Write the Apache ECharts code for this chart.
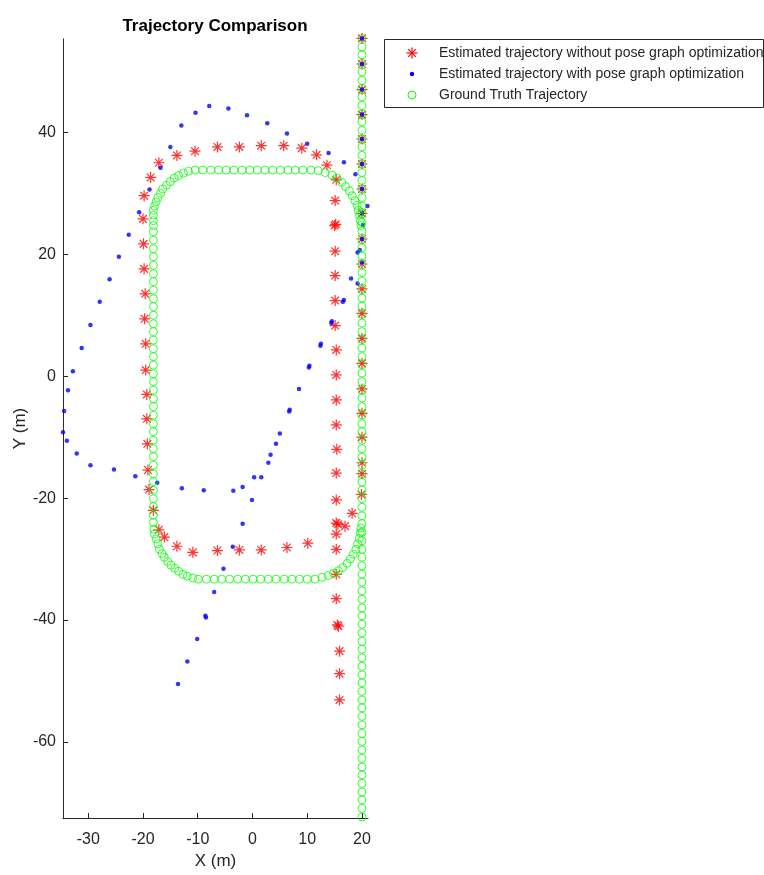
<!DOCTYPE html>
<html>
<head>
<meta charset="utf-8">
<script src="https://cdn.jsdelivr.net/npm/echarts@6/dist/echarts.min.js"></script>
<style>
  html, body { margin: 0; padding: 0; background: #fff; }
  #chart { width: 764px; height: 875px; }
</style>
</head>
<body>
<div id="chart"></div>
<script>
// ---- series names ----
const seriesNames = [
  'Estimated trajectory without pose graph optimization',
  'Estimated trajectory with pose graph optimization',
  'Ground Truth Trajectory'
];

// ---- axis ticks ----
const xTicks = [-30, -20, -10, 0, 10, 20];
const yTicks = [-60, -40, -20, 0, 20, 40];

// ---- estimated trajectory, no pose graph optimization (m) ----
const rawX = [
  20, 20, 20, 20, 20, 20, 20, 20, 20, 20, 20, 20, 20, 20, 20, 20, 20, 20, 20, 19.9, 18.2, 16.9,
  10.1, 6.3, 1.6, -2.4, -6.4, -10.9, -13.8, -16.1, -17.1, -18.1,
  -18.9, -19.1, -19.2, -19.3, -19.3, -19.5, -19.5, -19.7, -19.6, -19.8, -19.9, -20.0, -19.8,
  -18.6, -17.1, -13.8, -10.5, -6.4, -2.4, 1.6, 5.7, 9.0, 11.7, 13.6, 15.3,
  15.1, 15.0, 15.2, 15.1, 15.1, 15.1, 15.1, 15.3, 15.3, 15.3, 15.3, 15.4, 15.3, 15.3,
  15.3, 15.6, 15.3, 15.3, 15.3, 15.3, 15.5, 15.7, 15.9, 15.9, 15.9
];
const rawY = [
  55.4, 51.2, 47.0, 42.9, 38.9, 34.8, 30.7, 26.7, 22.5, 18.4, 14.3, 10.3, 6.2, 2.1, -2.1, -6.1, -10.0, -14.2, -16.0, -19.4, -22.5, -24.6,
  -27.4, -28.1, -28.5, -28.5, -28.6, -28.9, -27.9, -26.4, -25.2, -22.0,
  -18.6, -15.4, -11.1, -7.0, -3.0, 1.0, 5.3, 9.4, 13.5, 17.6, 21.7, 25.8, 29.6,
  32.6, 35.0, 36.2, 36.9, 37.6, 37.6, 37.8, 37.8, 37.4, 36.3, 34.6, 32.2,
  28.8, 24.7, 24.9, 20.5, 16.5, 12.4, 8.3, 4.3, 0.2, -3.9, -8.0, -12.0, -15.9, -20.3,
  -24.1, -24.3, -25.9, -28.4, -32.5, -36.5, -40.8, -41.0, -45.1, -48.8, -53.1
];

// ---- estimated trajectory with pose graph optimization (m) ----
const optX = [
  20, 20, 20, 20, 20, 20, 20, 20, 20, 19.6, 19.2, 20, 19.2, 18.0,
  16.5, 16.7, 14.4, 14.5, 12.4, 12.5, 10.3, 10.4, 8.5, 6.7, 6.8, 5.0, 4.3, 3.3, 2.9, 1.6, 0.3,
  -0.1, -1.8, -3.5, -8.9, -12.9, -17.4, -21.4, -25.3, -29.6, -32.1, -33.9, -34.6,
  -34.4, -33.7, -32.8, -31.2, -29.6, -27.9, -26.1, -24.4, -22.6, -20.7, -18.8, -16.8,
  -15.0, -13.0, -10.4, -7.9, -4.4, -1.0, 2.7, 6.3, 10.0, 13.9, 16.7, 18.8, 21.0, 20.2,
  -1.8, -3.6, -5.3, -7.0, -8.6, -8.5, -10.1, -11.9, -13.6
];
const optY = [
  55.4, 51.2, 47.0, 42.9, 38.9, 34.8, 30.7, 26.7, 22.5, 20.7, 20.3, 18.7, 15.2, 16.0,
  12.2, 12.5, 8.7, 9.0, 5.0, 5.3, 1.4, 1.7, -2.1, -5.8, -5.5, -9.4, -11.1, -12.9, -14.2, -16.6, -16.6,
  -20.3, -18.2, -18.8, -18.7, -18.4, -17.5, -16.4, -15.3, -14.6, -12.7, -10.6, -9.2,
  -5.7, -2.3, 0.8, 4.6, 8.4, 12.2, 15.9, 19.6, 23.2, 26.9, 30.6, 34.2,
  37.6, 41.1, 43.2, 44.3, 43.9, 42.8, 41.5, 39.8, 38.1, 36.6, 35.1, 33.1, 27.9, 24.8,
  -24.2, -28.0, -31.6, -35.4, -39.3, -39.6, -43.1, -46.8, -50.5
];

// ---- ground truth: straight run along x = 20 (m) ----
const truthLineX = 20;
const truthLineY = [
  55.4, 54.0, 52.7, 51.3, 49.9, 48.5, 47.2, 45.8, 44.4, 43.0,
  41.7, 40.3, 38.9, 37.6, 36.2, 34.8, 33.4, 32.1, 30.7, 29.3,
  27.9, 26.6, 25.2, 23.8, 22.4, 21.1, 19.7, 18.3, 17.0, 15.6,
  14.2, 12.8, 11.5, 10.1, 8.7, 7.3, 6.0, 4.6, 3.2, 1.9,
  0.5, -0.9, -2.3, -3.6, -5.0, -6.4, -7.8, -9.1, -10.5, -11.9,
  -13.3, -14.6, -16.0, -17.4, -18.7, -20.1, -21.5, -22.9, -24.2, -25.6,
  -27.0, -28.4, -29.7, -31.1, -32.5, -33.8, -35.2, -36.6, -38.0, -39.3,
  -40.7, -42.1, -43.5, -44.8, -46.2, -47.6, -49.0, -50.3, -51.7, -53.1,
  -54.4, -55.8, -57.2, -58.6, -59.9, -61.3, -62.7, -64.1, -65.4, -66.8,
  -68.2, -69.5, -70.9, -72.3
];

// ---- ground truth: rounded loop (m) ----
const truthLoopX = [
  // top-right corner
  19.8, 19.7, 19.5, 19.3, 19.1, 18.7, 18.2, 17.7, 17.0, 16.3, 15.4, 14.5, 13.3, 12.0,
  // top edge
  10.7, 9.2, 7.8, 6.5, 5.1, 3.7, 2.3, 0.9, -0.5, -1.9, -3.4, -4.8, -6.2, -7.6, -9.1, -10.5,
  // top-left corner
  -11.7, -12.6, -13.5, -14.3, -15.0, -15.7, -16.4, -16.8, -17.3, -17.6, -17.9, -18.1, -18.1, -18.1, -18.1, -18.1,
  // left edge
  -18.1, -18.1, -18.1, -18.1, -18.1, -18.1, -18.1, -18.1, -18.1, -18.1, -18.1, -18.1, -18.1, -18.1, -18.1, -18.1, -18.1,
  -18.1, -18.1, -18.1, -18.1, -18.1, -18.1, -18.1, -18.1, -18.1, -18.1, -18.1, -18.1, -18.1, -18.1, -18.1, -18.1, -18.1,
  // bottom-left corner
  -18.1, -18.0, -17.9, -17.6, -17.3, -17.0, -16.5, -16.1, -15.5, -14.9, -14.2, -13.5, -12.7, -11.9, -10.9,
  // bottom edge
  -9.9, -8.4, -7.0, -5.6, -4.2, -2.7, -1.3, 0.1, 1.5, 2.9, 4.3, 5.8, 7.2, 8.6, 10.0, 11.4,
  // bottom-right corner
  12.7, 13.8, 14.8, 15.7, 16.5, 17.3, 17.9, 18.4, 18.9, 19.2, 19.5, 19.7, 19.8
];
const truthLoopY = [
  24.7, 25.5, 26.4, 27.2, 28.0, 28.8, 29.6, 30.4, 31.1, 31.8, 32.5, 33.0, 33.4, 33.7,
  33.8, 33.8, 33.8, 33.8, 33.8, 33.8, 33.8, 33.8, 33.8, 33.8, 33.8, 33.8, 33.8, 33.8, 33.8, 33.8,
  33.6, 33.3, 32.9, 32.5, 31.9, 31.3, 30.7, 30.0, 29.3, 28.6, 27.9, 27.2, 26.4, 25.5, 24.7, 23.7,
  22.3, 20.9, 19.6, 18.2, 16.8, 15.5, 14.1, 12.7, 11.4, 10.0, 8.6, 7.3, 5.9, 4.5, 3.2, 1.8, 0.4,
  -0.9, -2.3, -3.7, -5.0, -6.4, -7.8, -9.1, -10.5, -11.9, -13.2, -14.6, -16.0, -17.3, -18.7, -20.1, -21.4, -22.8,
  -24.0, -25.1, -25.9, -26.7, -27.5, -28.4, -29.1, -29.7, -30.4, -31.0, -31.5, -32.0, -32.5, -32.8, -33.1,
  -33.3, -33.3, -33.3, -33.3, -33.3, -33.3, -33.3, -33.3, -33.3, -33.3, -33.3, -33.3, -33.3, -33.3, -33.3, -33.3,
  -33.0, -32.7, -32.3, -31.9, -31.4, -30.7, -30.0, -29.2, -28.4, -27.5, -26.6, -25.7, -24.9
];

// ---- build point lists ----
const zip = (xs, ys) => xs.map((x, i) => [x, ys[i]]);
const rawData = zip(rawX, rawY);
const optData = zip(optX, optY);
const truthData = truthLineY.map(y => [truthLineX, y]).concat(zip(truthLoopX, truthLoopY));

const AXIS_COLOR = '#262626';
const FONT = '"Liberation Sans", Arial, Helvetica, sans-serif';
const RED = '#ff0000', BLUE = '#0000ff', GREEN = '#00ff00';

// eight-armed asterisk marker
const starPath = 'path://M5 0L5 10M0 5L10 5M1.5 1.5L8.5 8.5M1.5 8.5L8.5 1.5';

// legend drawn as a boxed key to the right of the axes
const LEG = { x: 384, y: 39, w: 379, h: 68, markX: 412, textX: 439, rows: [53, 74, 95] };
const starArm = 5.5, starDiag = 3.8;
const legendGraphics = [
  { type: 'rect', shape: { x: LEG.x + 0.5, y: LEG.y + 0.5, width: LEG.w, height: LEG.h },
    style: { fill: '#fff', stroke: AXIS_COLOR, lineWidth: 1 } },
  // asterisk
  { type: 'line', shape: { x1: LEG.markX, y1: LEG.rows[0] - starArm, x2: LEG.markX, y2: LEG.rows[0] + starArm }, style: { stroke: RED, lineWidth: 1.2 } },
  { type: 'line', shape: { x1: LEG.markX - starArm, y1: LEG.rows[0], x2: LEG.markX + starArm, y2: LEG.rows[0] }, style: { stroke: RED, lineWidth: 1.2 } },
  { type: 'line', shape: { x1: LEG.markX - starDiag, y1: LEG.rows[0] - starDiag, x2: LEG.markX + starDiag, y2: LEG.rows[0] + starDiag }, style: { stroke: RED, lineWidth: 1.2 } },
  { type: 'line', shape: { x1: LEG.markX - starDiag, y1: LEG.rows[0] + starDiag, x2: LEG.markX + starDiag, y2: LEG.rows[0] - starDiag }, style: { stroke: RED, lineWidth: 1.2 } },
  // dot
  { type: 'circle', shape: { cx: LEG.markX, cy: LEG.rows[1], r: 2.2 }, style: { fill: BLUE } },
  // ring
  { type: 'circle', shape: { cx: LEG.markX, cy: LEG.rows[2], r: 4 }, style: { fill: 'none', stroke: GREEN, lineWidth: 1 } }
].concat(seriesNames.map((name, i) => ({
  type: 'text', x: LEG.textX, y: LEG.rows[i],
  style: { text: name, fill: AXIS_COLOR, font: '14px ' + FONT, textVerticalAlign: 'middle', verticalAlign: 'middle' }
})));

const chart = echarts.init(document.getElementById('chart'), null, { renderer: 'canvas' });

chart.setOption({
  animation: false,
  backgroundColor: '#ffffff',
  title: {
    text: 'Trajectory Comparison',
    left: 210,
    top: 13,
    textAlign: 'center',
    textStyle: { fontFamily: FONT, fontSize: 17, fontWeight: 'bold', color: '#000' }
  },
  grid: { left: 63, top: 39, width: 305, height: 780 },
  xAxis: {
    type: 'value',
    min: -34.61,
    max: 21.1,
    name: 'X (m)',
    nameLocation: 'middle',
    nameGap: 35,
    nameTextStyle: { fontFamily: FONT, fontSize: 17, color: AXIS_COLOR },
    axisLine: { show: true, onZero: false, lineStyle: { color: AXIS_COLOR, width: 1 } },
    axisTick: { show: true, inside: true, length: 5, customValues: xTicks, lineStyle: { color: AXIS_COLOR } },
    axisLabel: { customValues: xTicks, margin: 14, fontFamily: FONT, fontSize: 16, color: AXIS_COLOR },
    splitLine: { show: false }
  },
  yAxis: {
    type: 'value',
    min: -72.47,
    max: 55.3,
    name: 'Y (m)',
    nameLocation: 'middle',
    nameGap: 32,
    nameTextStyle: { fontFamily: FONT, fontSize: 17, color: AXIS_COLOR },
    axisLine: { show: true, onZero: false, lineStyle: { color: AXIS_COLOR, width: 1 } },
    axisTick: { show: true, inside: true, length: 5, customValues: yTicks, lineStyle: { color: AXIS_COLOR } },
    axisLabel: { customValues: yTicks, margin: 7, fontFamily: FONT, fontSize: 16, color: AXIS_COLOR },
    splitLine: { show: false }
  },
  graphic: legendGraphics,
  series: [
    {
      name: seriesNames[0],
      type: 'scatter',
      data: rawData,
      clip: false,
      symbol: starPath,
      symbolSize: 11,
      itemStyle: { color: 'rgba(0,0,0,0)', borderColor: RED, borderWidth: 1.2 },
      emphasis: { disabled: true }
    },
    {
      name: seriesNames[1],
      type: 'scatter',
      data: optData,
      clip: false,
      symbol: 'circle',
      symbolSize: 4.5,
      itemStyle: { color: BLUE },
      emphasis: { disabled: true }
    },
    {
      name: seriesNames[2],
      type: 'scatter',
      data: truthData,
      clip: false,
      symbol: 'circle',
      symbolSize: 8,
      itemStyle: { color: 'rgba(0,0,0,0)', borderColor: GREEN, borderWidth: 1 },
      emphasis: { disabled: true }
    }
  ]
});
</script>
</body>
</html>
